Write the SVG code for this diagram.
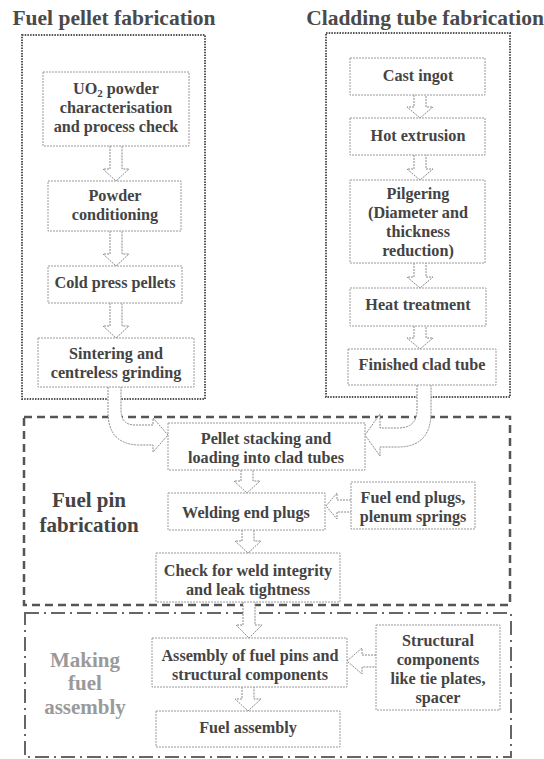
<svg xmlns="http://www.w3.org/2000/svg" width="544" height="759" viewBox="0 0 544 759">
<style>
text{font-family:"Liberation Serif","Times New Roman",serif;font-weight:bold;text-anchor:middle;}
.title{font-size:21.5px;fill:#4a4a4a;}
.t{font-size:16.2px;fill:#444;}
.lbl{font-size:21px;fill:#444;}
.lbl2{font-size:21px;fill:#9a9a9a;}
.box{fill:#fff;stroke:#9a9a9a;stroke-width:1;stroke-dasharray:2 1;}
.outer{fill:none;stroke:#555;stroke-width:2;stroke-dasharray:1.5 1.2;}
.pin{fill:none;stroke:#555;stroke-width:2.5;stroke-dasharray:8 5;}
.asm{fill:none;stroke:#666;stroke-width:2;stroke-dasharray:14 5 2 5;}
.arr{fill:#fff;stroke:#8a8a8a;stroke-width:1;stroke-dasharray:2 1;}
</style>
<rect width="544" height="759" fill="#fff"/>
<g id="groups">
<rect class="asm" x="25" y="613" width="486" height="144"/>
<rect class="pin" x="24" y="417" width="486" height="188"/>
<rect class="outer" x="22" y="35" width="183" height="364"/>
<rect class="outer" x="326" y="33" width="184" height="364"/>
<text class="title" x="114" y="25">Fuel pellet fabrication</text>
<text class="title" x="425" y="25">Cladding tube fabrication</text>
<text class="lbl" x="89" y="507">Fuel pin</text>
<text class="lbl" x="89" y="532">fabrication</text>
<text class="lbl2" x="85" y="667">Making</text>
<text class="lbl2" x="85" y="690">fuel</text>
<text class="lbl2" x="85" y="714">assembly</text>
</g>
<g id="connectors">
<path class="arr" d="M110,146 V169 H103 L116,181 L129,169 H122 V146"/>
<path class="arr" d="M110,231 V254 H103 L116,266 L129,254 H122 V231"/>
<path class="arr" d="M110,303 V326 H103 L116,338 L129,326 H122 V303"/>
<path class="arr" d="M414,95 V107 H407 L420,118 L433,107 H426 V95"/>
<path class="arr" d="M414,155 V169 H407 L420,180 L433,169 H426 V155"/>
<path class="arr" d="M414,263 V277 H407 L420,288 L433,277 H426 V263"/>
<path class="arr" d="M414,326 V338 H407 L420,349 L433,338 H426 V326"/>
<path class="arr" d="M108,387 V412 Q108,445 140,445 H153 V452 L168,435 L153,418 V425 H135 Q121,425 121,410 V387"/>
<path class="arr" d="M417,385 V410 Q417,428 398,428 H380 V414 L365,435 L380,456 V447 H398 Q431,447 431,412 V385"/>
<path class="arr" d="M241,470 V481 H234 L247,493 L260,481 H253 V470"/>
<path class="arr" d="M242,530 V541 H235 L248,553 L261,541 H254 V530"/>
<path class="arr" d="M243,602 V625 H236 L249,638 L262,625 H255 V602"/>
<path class="arr" d="M242,687 V699 H235 L248,711 L261,699 H254 V687"/>
<path class="arr" d="M351,500 H337 V493 L326,506 L337,519 V512 H351"/>
<path class="arr" d="M376,655 H362 V648 L347,661 L362,674 V667 H376"/>
</g>
<g id="uo2"><rect class="box" x="43" y="72" width="146" height="74"/>
<text class="t" x="116" y="94">UO<tspan font-size="11" dy="3">2</tspan><tspan dy="-3"> powder</tspan></text>
<text class="t" x="116" y="113">characterisation</text>
<text class="t" x="116" y="132">and process check</text></g>
<g id="powder"><rect class="box" x="48" y="181" width="133" height="50"/>
<text class="t" x="115" y="201">Powder</text><text class="t" x="115" y="220">conditioning</text></g>
<g id="cold"><rect class="box" x="48" y="266" width="134" height="37"/>
<text class="t" x="115" y="288">Cold press pellets</text></g>
<g id="sinter"><rect class="box" x="38" y="338" width="156" height="49"/>
<text class="t" x="116" y="359">Sintering and</text><text class="t" x="116" y="378">centreless grinding</text></g>
<g id="cast"><rect class="box" x="350" y="58" width="135" height="37"/>
<text class="t" x="418" y="81">Cast ingot</text></g>
<g id="hot"><rect class="box" x="350" y="118" width="135" height="37"/>
<text class="t" x="418" y="141">Hot extrusion</text></g>
<g id="pilger"><rect class="box" x="350" y="180" width="135" height="83"/>
<text class="t" x="418" y="199">Pilgering</text><text class="t" x="418" y="218">(Diameter and</text>
<text class="t" x="418" y="237">thickness</text><text class="t" x="418" y="256">reduction)</text></g>
<g id="heat"><rect class="box" x="350" y="288" width="136" height="38"/>
<text class="t" x="418" y="310">Heat treatment</text></g>
<g id="finished"><rect class="box" x="348" y="349" width="148" height="36"/>
<text class="t" x="422" y="370">Finished clad tube</text></g>
<g id="pellet"><rect class="box" x="168" y="423" width="197" height="47"/>
<text class="t" x="266" y="444">Pellet stacking and</text><text class="t" x="266" y="463">loading into clad tubes</text></g>
<g id="welding"><rect class="box" x="168" y="493" width="157" height="37"/>
<text class="t" x="246" y="518">Welding end plugs</text></g>
<g id="endplugs"><rect class="box" x="351" y="482" width="124" height="47"/>
<text class="t" x="413" y="503">Fuel end plugs,</text><text class="t" x="413" y="522">plenum springs</text></g>
<g id="check"><rect class="box" x="156" y="553" width="184" height="49"/>
<text class="t" x="248" y="576">Check for weld integrity</text><text class="t" x="248" y="595">and leak tightness</text></g>
<g id="assembly"><rect class="box" x="152" y="638" width="195" height="49"/>
<text class="t" x="250" y="661">Assembly of fuel pins and</text><text class="t" x="250" y="680">structural components</text></g>
<g id="structural"><rect class="box" x="376" y="625" width="124" height="85"/>
<text class="t" x="438" y="646">Structural</text><text class="t" x="438" y="665">components</text>
<text class="t" x="438" y="684">like tie plates,</text><text class="t" x="438" y="703">spacer</text></g>
<g id="fuelassembly"><rect class="box" x="156" y="711" width="184" height="36"/>
<text class="t" x="248" y="733">Fuel assembly</text></g>
</svg>
